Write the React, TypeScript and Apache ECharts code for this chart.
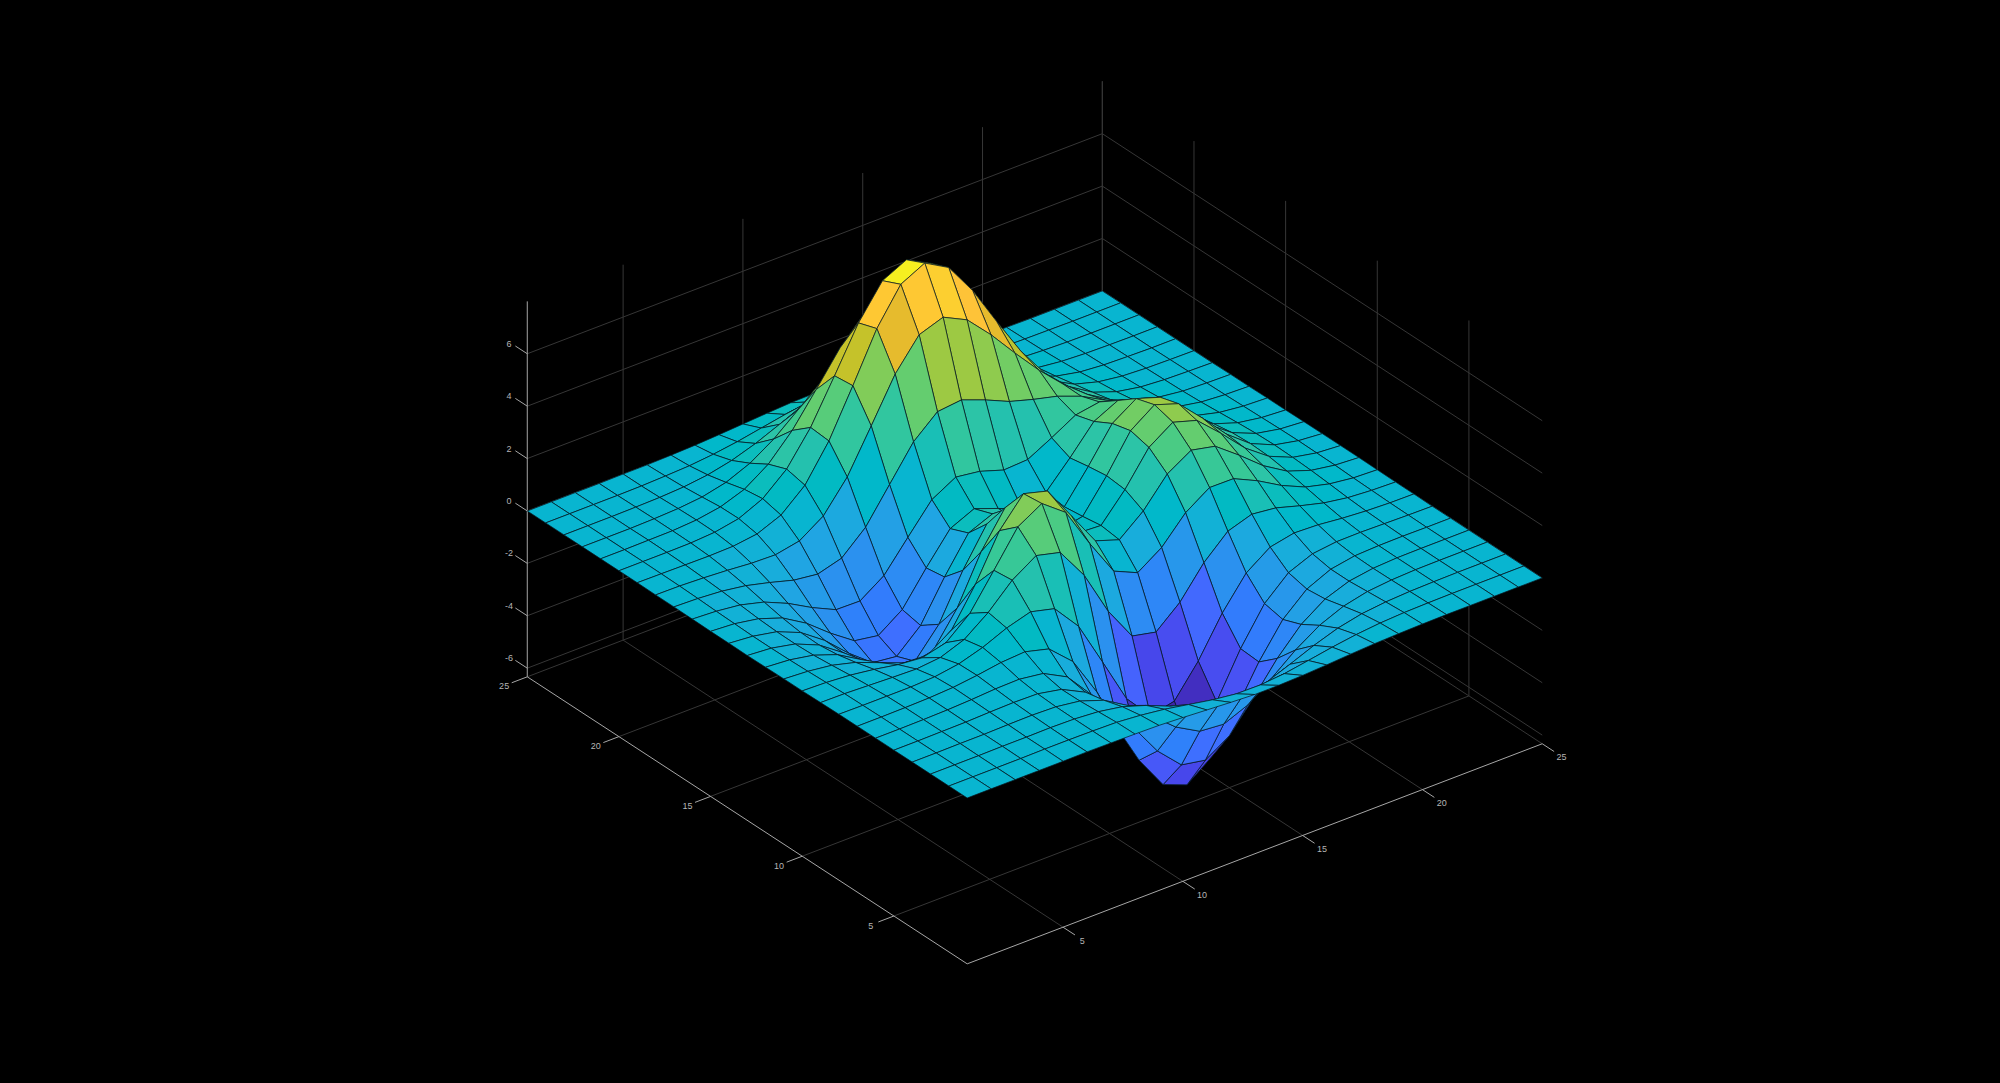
import React, { useEffect, useRef } from "react";
import * as echarts from "echarts";

// Surface heights: one list per y index (1..25), each value per x index (1..25)
const z01 = [0,0,0,0,0,.01,0,-.01,-.03,-.08,-.14,-.2,-.25,-.25,-.22,-.17,-.11,-.06,-.03,-.01,0,0,0,0,0];
const z02 = [0,0,0,0,.01,.01,0,-.02,-.1,-.22,-.39,-.56,-.68,-.69,-.61,-.46,-.3,-.17,-.08,-.03,-.01,0,0,0,0];
const z03 = [0,0,0,.01,.01,.02,0,-.07,-.23,-.53,-.91,-1.31,-1.57,-1.6,-1.41,-1.06,-.69,-.38,-.18,-.08,-.03,-.01,0,0,0];
const z04 = [0,0,.01,.01,.03,.04,.01,-.12,-.44,-.99,-1.74,-2.51,-3.02,-3.1,-2.72,-2.05,-1.32,-.73,-.35,-.14,-.05,-.01,0,0,0];
const z05 = [0,0,.01,.02,.05,.07,.05,-.13,-.59,-1.45,-2.64,-3.88,-4.76,-4.93,-4.35,-3.27,-2.1,-1.15,-.53,-.2,-.06,-.01,0,0,0];
const z06 = [0,0,.01,.03,.07,.13,.15,.02,-.46,-1.48,-3,-4.69,-5.97,-6.33,-5.64,-4.24,-2.69,-1.42,-.61,-.2,-.04,0,.01,0,0];
const z07 = [0,0,.01,.03,.08,.19,.33,.39,.15,-.68,-2.19,-4.08,-5.68,-6.33,-5.76,-4.32,-2.64,-1.27,-.44,-.07,.04,.05,.03,.01,0];
const z08 = [0,-.01,-.01,-.01,.03,.17,.45,.84,1.11,.88,-.14,-1.85,-3.6,-4.6,-4.4,-3.22,-1.74,-.56,.08,.27,.23,.13,.06,.02,.01];
const z09 = [-.01,-.02,-.06,-.1,-.13,-.04,.3,.98,1.86,2.45,2.22,1,-.72,-2.02,-2.22,-1.43,-.27,.58,.88,.77,.5,.26,.11,.04,.01];
const z10 = [-.02,-.05,-.12,-.25,-.42,-.51,-.28,.49,1.78,3.09,3.63,2.94,1.4,0,-.41,.2,1.18,1.79,1.78,1.35,.82,.41,.18,.06,.02];
const z11 = [-.02,-.08,-.2,-.44,-.8,-1.16,-1.21,-.6,.8,2.49,3.55,3.3,2,.7,.39,1.14,2.2,2.76,2.56,1.87,1.12,.56,.24,.09,.03];
const z12 = [-.03,-.1,-.27,-.6,-1.14,-1.78,-2.16,-1.84,-.57,1.23,2.56,2.63,1.59,.53,.48,1.5,2.76,3.37,3.09,2.25,1.34,.67,.28,.1,.03];
const z13 = [-.04,-.11,-.3,-.69,-1.33,-2.14,-2.77,-2.71,-1.65,.06,1.48,1.75,.98,.19,.37,1.57,2.94,3.58,3.27,2.37,1.41,.7,.3,.11,.03];
const z14 = [-.03,-.11,-.29,-.67,-1.32,-2.16,-2.87,-2.98,-2.15,-.65,.68,1.06,.52,-.03,.28,1.47,2.76,3.36,3.06,2.22,1.32,.66,.28,.1,.03];
const z15 = [-.03,-.09,-.25,-.57,-1.12,-1.85,-2.49,-2.64,-2,-.76,.39,.8,.46,.09,.38,1.34,2.38,2.83,2.56,1.84,1.09,.54,.23,.08,.02];
const z16 = [-.02,-.07,-.18,-.42,-.82,-1.33,-1.76,-1.78,-1.16,-.05,1.04,1.55,1.42,1.12,1.17,1.65,2.17,2.32,1.99,1.4,.82,.4,.17,.06,.02];
const z17 = [-.01,-.04,-.11,-.25,-.48,-.74,-.86,-.6,.23,1.51,2.79,3.59,3.69,3.34,2.93,2.66,2.43,2.08,1.58,1.04,.58,.28,.11,.04,.01];
const z18 = [-.01,-.02,-.06,-.12,-.2,-.23,-.05,.55,1.69,3.29,4.92,6.07,6.39,5.94,5.02,3.97,2.97,2.09,1.35,.79,.41,.19,.07,.03,.01];
const z19 = [0,-.01,-.02,-.03,-.01,.11,.48,1.27,2.61,4.37,6.2,7.54,8,7.48,6.25,4.72,3.25,2.05,1.19,.62,.29,.12,.05,.02,0];
const z20 = [0,0,0,.01,.07,.24,.65,1.43,2.67,4.29,5.96,7.22,7.67,7.19,5.99,4.45,2.96,1.78,.96,.47,.21,.08,.03,.01,0];
const z21 = [0,0,.01,.02,.08,.23,.55,1.16,2.1,3.31,4.56,5.51,5.86,5.5,4.57,3.37,2.21,1.29,.68,.32,.13,.05,.02,0,0];
const z22 = [0,0,0,.02,.06,.15,.36,.74,1.32,2.07,2.84,3.43,3.65,3.43,2.84,2.09,1.36,.79,.41,.19,.08,.03,.01,0,0];
const z23 = [0,0,0,.01,.03,.08,.19,.39,.69,1.07,1.47,1.77,1.88,1.77,1.47,1.08,.7,.4,.21,.09,.04,.01,0,0,0];
const z24 = [0,0,0,0,.01,.04,.08,.17,.3,.47,.64,.77,.82,.77,.64,.47,.3,.17,.09,.04,.02,.01,0,0,0];
const z25 = [0,0,0,0,.01,.01,.03,.06,.11,.17,.23,.28,.3,.28,.23,.17,.11,.06,.03,.01,.01,0,0,0,0];
const zRows = [z01,z02,z03,z04,z05,z06,z07,z08,z09,z10,z11,z12,z13,z14,z15,z16,z17,z18,z19,z20,z21,z22,z23,z24,z25];

const xTicks = [5, 10, 15, 20, 25];
const yTicks = [5, 10, 15, 20, 25];
const zTicks = [-6, -4, -2, 0, 2, 4, 6];
const xLim = [1, 25];
const yLim = [1, 25];
const zLim = [-6.33, 8];

// parula(64)
const parula = [
  [.2422,.1504,.6603],[.2504,.1650,.7076],[.2578,.1818,.7511],[.2647,.1978,.7952],
  [.2706,.2147,.8364],[.2751,.2342,.8710],[.2783,.2559,.8991],[.2803,.2782,.9221],
  [.2813,.3006,.9414],[.2810,.3228,.9579],[.2795,.3447,.9717],[.2760,.3667,.9829],
  [.2699,.3892,.9906],[.2602,.4123,.9952],[.2440,.4358,.9988],[.2206,.4603,.9973],
  [.1963,.4847,.9892],[.1834,.5074,.9798],[.1786,.5289,.9682],[.1764,.5499,.9520],
  [.1687,.5703,.9359],[.1540,.5902,.9218],[.1460,.6091,.9079],[.1380,.6276,.8973],
  [.1248,.6459,.8883],[.1113,.6635,.8763],[.0952,.6798,.8598],[.0689,.6948,.8394],
  [.0297,.7082,.8163],[.0036,.7203,.7917],[.0067,.7312,.7660],[.0433,.7411,.7394],
  [.0964,.7500,.7120],[.1408,.7584,.6842],[.1717,.7670,.6554],[.1938,.7758,.6251],
  [.2161,.7843,.5923],[.2470,.7918,.5567],[.2906,.7973,.5188],[.3406,.8008,.4789],
  [.3909,.8029,.4354],[.4456,.8024,.3909],[.5044,.7993,.3480],[.5616,.7942,.3045],
  [.6174,.7876,.2612],[.6720,.7793,.2227],[.7242,.7698,.1910],[.7738,.7598,.1646],
  [.8203,.7498,.1535],[.8634,.7406,.1596],[.9035,.7330,.1774],[.9393,.7288,.2100],
  [.9728,.7298,.2394],[.9956,.7434,.2371],[.9970,.7659,.2199],[.9952,.7861,.1990],
  [.9892,.8136,.1885],[.9786,.8414,.1606],[.9676,.8693,.1500],[.9610,.8890,.1537],
  [.9597,.9135,.1423],[.9628,.9373,.1265],[.9691,.9606,.1064],[.9769,.9839,.0805],
];

// Orthographic view: pixel position of (x=1, y=1, z=0) and pixels per unit
const view = { ox: 967.2, oy: 798, xx: 23.96, xy: -9.17, yx: -18.33, yy: -11.96, zy: -26.2 };
const project = (x: number, y: number, z: number) => [
  view.ox + (x - 1) * view.xx + (y - 1) * view.yx,
  view.oy + (x - 1) * view.xy + (y - 1) * view.yy + z * view.zy,
];

const faceColor = (z: number) => {
  const f = (z - zLim[0]) / (zLim[1] - zLim[0]);
  const c = parula[Math.min(63, Math.max(0, Math.floor(f * 64)))];
  return `rgb(${Math.round(c[0] * 255)},${Math.round(c[1] * 255)},${Math.round(c[2] * 255)})`;
};

// [x1,y1,z1,x2,y2,z2]
type Seg = number[];
const gridSegs: Seg[] = [];
const axisSegs: Seg[] = [];
const [x0, x1] = xLim;
const [y0, y1] = yLim;
const [zA, zB] = zLim;
xTicks.forEach((x) => {
  gridSegs.push([x, y0, zA, x, y1, zA]);
  gridSegs.push([x, y1, zA, x, y1, zB]);
});
yTicks.forEach((y) => {
  gridSegs.push([x0, y, zA, x1, y, zA]);
  gridSegs.push([x1, y, zA, x1, y, zB]);
});
zTicks.forEach((z) => {
  gridSegs.push([x0, y1, z, x1, y1, z]);
  gridSegs.push([x1, y0, z, x1, y1, z]);
});
axisSegs.push([x0, y0, zA, x1, y0, zA]);
axisSegs.push([x0, y0, zA, x0, y1, zA]);
axisSegs.push([x0, y1, zA, x0, y1, zB]);
const tickLen = 0.65;
xTicks.forEach((x) => axisSegs.push([x, y0, zA, x, y0 - tickLen, zA]));
yTicks.forEach((y) => axisSegs.push([x0, y, zA, x0 - tickLen, y, zA]));
zTicks.forEach((z) => axisSegs.push([x0, y1, z, x0, y1 + tickLen, z]));

// Labels: [x, y, z, text, axis]
const labelGap = 1.05;
const labels: (number | string)[][] = [
  ...xTicks.map((x) => [x, y0 - labelGap, zA, String(x), "x"]),
  ...yTicks.map((y) => [x0 - labelGap, y, zA, String(y), "y"]),
  ...zTicks.map((z) => [x0, y1 + labelGap, z, String(z), "z"]),
];
const labelNudge: Record<string, number[]> = { x: [0, 1], y: [2, 0], z: [1, 2.5] };

// Faces painted from the far corner to the near one
const faces: number[][] = [];
for (let j = zRows.length - 2; j >= 0; j--) {
  for (let i = zRows[0].length - 2; i >= 0; i--) {
    faces.push([i, j]);
  }
}

const segRender = (stroke: string) => (_p: any, api: any) => {
  const a = project(api.value(0), api.value(1), api.value(2));
  const b = project(api.value(3), api.value(4), api.value(5));
  const pa = api.coord(a);
  const pb = api.coord(b);
  return {
    type: "line",
    shape: { x1: pa[0], y1: pa[1], x2: pb[0], y2: pb[1] },
    style: { stroke, lineWidth: 1, fill: "none" },
    silent: true,
  };
};

export default function App() {
  const ref = useRef<HTMLDivElement>(null);
  useEffect(() => {
    document.body.style.margin = "0";
    document.body.style.background = "#000";
    const chart = echarts.init(ref.current!, undefined, { renderer: "svg" });
    const dims = { dimensions: ["a", "b", "c", "d", "e", "f"] };
    chart.setOption({
      animation: false,
      backgroundColor: "#000",
      tooltip: { show: false },
      grid: { left: 0, right: 0, top: 0, bottom: 0 },
      xAxis: { type: "value", min: 0, max: 2000, show: false },
      yAxis: { type: "value", min: 0, max: 1083, inverse: true, show: false },
      series: [
        {
          type: "custom",
          coordinateSystem: "cartesian2d",
          clip: false,
          silent: true,
          ...dims,
          renderItem: segRender("#363636"),
          data: gridSegs,
        },
        {
          type: "custom",
          coordinateSystem: "cartesian2d",
          clip: false,
          silent: true,
          ...dims,
          renderItem: segRender("#a6a6a6"),
          data: axisSegs,
        },
        {
          type: "custom",
          coordinateSystem: "cartesian2d",
          clip: false,
          silent: true,
          renderItem: (_p: any, api: any) => {
            const i = api.value(0);
            const j = api.value(1);
            const corner = (a: number, b: number) =>
              api.coord(project(a + 1, b + 1, zRows[b][a]));
            return {
              type: "polygon",
              shape: {
                points: [corner(i, j), corner(i + 1, j), corner(i + 1, j + 1), corner(i, j + 1)],
              },
              style: {
                fill: faceColor(zRows[j][i]),
                stroke: "rgba(5,25,35,0.72)",
                lineWidth: 1,
                lineJoin: "round",
              },
              silent: true,
            };
          },
          data: faces,
        },
        {
          type: "custom",
          coordinateSystem: "cartesian2d",
          clip: false,
          silent: true,
          renderItem: (p: any, api: any) => {
            const l = labels[p.dataIndex];
            const pt = api.coord(project(l[0] as number, l[1] as number, l[2] as number));
            const n = labelNudge[l[4] as string];
            return {
              type: "text",
              x: pt[0] + n[0],
              y: pt[1] + n[1],
              style: {
                text: l[3] as string,
                fill: "#b5b5b5",
                font: '9px "Liberation Sans"',
                align: "center",
                verticalAlign: "middle",
              },
              silent: true,
            };
          },
          data: labels.map((l) => [l[0], l[1]]),
        },
      ],
    });
    return () => chart.dispose();
  }, []);
  return (
    <div
      ref={ref}
      style={{ position: "absolute", left: 0, top: 0, width: 2000, height: 1083, background: "#000" }}
    />
  );
}
